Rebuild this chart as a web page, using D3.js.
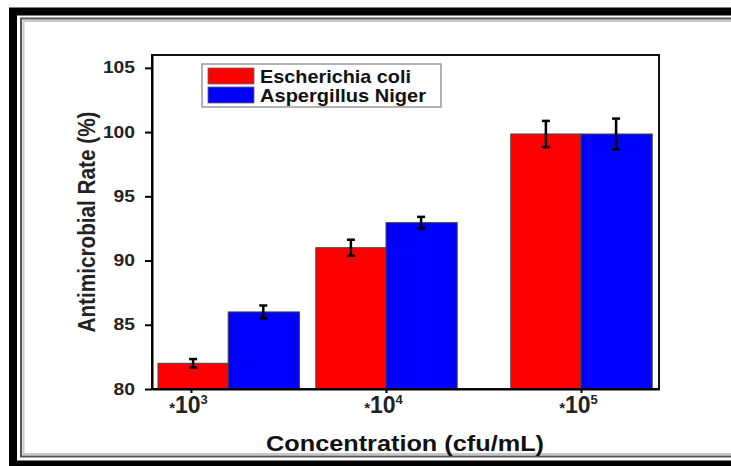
<!DOCTYPE html>
<html>
<head>
<meta charset="utf-8">
<script src="https://cdn.jsdelivr.net/npm/d3@7"></script>
<style>
  html, body { margin: 0; padding: 0; background: #fff; }
  svg { display: block; font-family: Arial, "Liberation Sans", sans-serif; }
</style>
</head>
<body>
<script>
// chart data
var categories = ["c3", "c4", "c5"];
var tickBase = "10";
var tickExponents = ["3", "4", "5"];
var seriesNames = ["Escherichia coli", "Aspergillus Niger"];
var seriesColors = ["#ff0000", "#0000ff"];
var ecoliValues = [82.0, 91.0, 99.85];
var ecoliErrors = [0.33, 0.62, 1.02];
var nigerValues = [86.0, 92.95, 99.85];
var nigerErrors = [0.5, 0.45, 1.2];
var yTicks = [80, 85, 90, 95, 100, 105];

var winWidth = 731, winHeight = 466;
var plot = {left: 152, right: 659, top: 55, bottom: 389};

var svg = d3.select("body").append("svg")
    .attr("width", winWidth)
    .attr("height", winHeight);

// stretch a text element to a wanted width
function stretch(sel, w) {
    sel.attr("textLength", w).attr("lengthAdjust", "spacingAndGlyphs");
}

// picture frame (double border with soft shadow)
svg.append("rect")
    .attr("x", 13).attr("y", 11.5)
    .attr("width", 760).attr("height", 453)
    .attr("fill", "none").attr("stroke", "#000").attr("stroke-width", 8);
svg.append("rect")
    .attr("x", 21).attr("y", 18.5)
    .attr("width", 760).attr("height", 438)
    .attr("fill", "none").attr("stroke", "#555").attr("stroke-width", 2);
svg.append("rect")
    .attr("x", 23.5).attr("y", 21)
    .attr("width", 760).attr("height", 433)
    .attr("fill", "none").attr("stroke", "#c8c8c8").attr("stroke-width", 2);

// scales
var x = d3.scalePoint()
    .domain(categories)
    .range([plot.left, plot.right])
    .padding(0.3)
    .align(1 / 3);
var y = d3.scaleLinear()
    .domain([80, 106])
    .range([plot.bottom, plot.top]);

var barW = x.step() * 0.36;
var gap = 6;
// keep a group inside the frame when its tick is too close to the edge
function groupCenter(c) {
    return Math.max(x(c), plot.left + gap + barW);
}

var rows = categories.map(function(c, i) {
    return {cat: c, vals: [
        {s: 0, v: ecoliValues[i], e: ecoliErrors[i]},
        {s: 1, v: nigerValues[i], e: nigerErrors[i]}
    ]};
});

var groups = svg.selectAll("g.grp")
    .data(rows)
    .enter().append("g")
    .attr("class", "grp");

groups.selectAll("rect")
    .data(function(d) { return d.vals.map(function(v) { v.cat = d.cat; return v; }); })
    .enter().append("rect")
    .attr("x", function(d) { return groupCenter(d.cat) - barW + d.s * barW; })
    .attr("y", function(d) { return y(d.v); })
    .attr("width", function(d) { return barW + d.s; })
    .attr("height", function(d) { return y(80) - y(d.v); })
    .attr("fill", function(d) { return seriesColors[d.s]; })
    .attr("stroke", "#444")
    .attr("stroke-width", 1);

// error bars
var errs = groups.selectAll("g.err")
    .data(function(d) { return d.vals; })
    .enter().append("g")
    .attr("class", "err")
    .attr("stroke", "#000")
    .attr("stroke-width", 2.5);
function errX(d) { return groupCenter(d.cat) - barW / 2 + d.s * barW; }
errs.append("line")
    .attr("x1", errX).attr("x2", errX)
    .attr("y1", function(d) { return y(d.v + d.e); })
    .attr("y2", function(d) { return y(d.v - d.e); });
errs.append("line")
    .attr("x1", function(d) { return errX(d) - 4; })
    .attr("x2", function(d) { return errX(d) + 4; })
    .attr("y1", function(d) { return y(d.v + d.e); })
    .attr("y2", function(d) { return y(d.v + d.e); });
errs.append("line")
    .attr("x1", function(d) { return errX(d) - 4; })
    .attr("x2", function(d) { return errX(d) + 4; })
    .attr("y1", function(d) { return y(d.v - d.e); })
    .attr("y2", function(d) { return y(d.v - d.e); });

// plot frame
svg.append("rect")
    .attr("x", plot.left).attr("y", plot.top)
    .attr("width", plot.right - plot.left)
    .attr("height", plot.bottom - plot.top)
    .attr("fill", "none").attr("stroke", "#111").attr("stroke-width", 2);

// y axis
var yAxis = svg.append("g")
    .attr("transform", "translate(" + plot.left + ",0)")
    .call(d3.axisLeft(y).tickValues(yTicks).tickSize(7).tickSizeOuter(0).tickPadding(10));
yAxis.select(".domain").attr("stroke-width", 2);
yAxis.selectAll(".tick line").attr("stroke-width", 2);
yAxis.selectAll(".tick text")
    .attr("font-size", 16).attr("font-weight", "bold").attr("fill", "#222")
    .attr("font-family", "Arial, 'Liberation Sans', sans-serif")
    .each(function(d) { stretch(d3.select(this), String(d).length * 10.7); });

// x axis
var xAxis = svg.append("g")
    .attr("transform", "translate(0," + plot.bottom + ")")
    .call(d3.axisBottom(x).tickSize(4).tickSizeOuter(0).tickFormat(""));
xAxis.select(".domain").attr("stroke-width", 2);
xAxis.selectAll(".tick line").attr("stroke-width", 2);
xAxis.selectAll(".tick text").remove();
xAxis.selectAll(".tick").each(function(d, i) {
    var t = d3.select(this).append("text")
        .attr("y", 24).attr("x", -3)
        .attr("text-anchor", "middle")
        .attr("fill", "#222")
        .attr("font-family", "Arial, 'Liberation Sans', sans-serif")
        .attr("font-weight", "bold");
    t.append("tspan").attr("font-size", 15).attr("dy", 0).text("*");
    t.append("tspan").attr("font-size", 23).text(tickBase);
    t.append("tspan").attr("font-size", 13).attr("dy", -9).text(tickExponents[i]);
});

// axis titles
svg.append("text")
    .attr("transform", "translate(95," + ((plot.top + 389) / 2) + ") rotate(-90)")
    .attr("text-anchor", "middle")
    .attr("font-size", 23.5).attr("font-weight", "bold").attr("fill", "#222")
    .text("Antimicrobial Rate (%)")
    .call(stretch, 221);
svg.append("text")
    .attr("x", 405).attr("y", 450.5)
    .attr("text-anchor", "middle")
    .attr("font-size", 22).attr("font-weight", "bold").attr("fill", "#111")
    .text("Concentration (cfu/mL)")
    .call(stretch, 278);

// legend
var legend = svg.append("g").attr("transform", "translate(202,64)");
legend.append("rect")
    .attr("width", 239).attr("height", 43)
    .attr("fill", "#fff").attr("stroke", "#999").attr("stroke-width", 1.5);
var legendWidths = [151, 166];
var items = legend.selectAll("g.item")
    .data(seriesNames)
    .enter().append("g")
    .attr("class", "item")
    .attr("transform", function(d, i) { return "translate(6," + (4 + i * 19) + ")"; });
items.append("rect")
    .attr("width", 46).attr("height", 16)
    .attr("fill", function(d, i) { return seriesColors[i]; })
    .attr("stroke", "#666").attr("stroke-width", 0.8);
items.append("text")
    .attr("x", 52).attr("y", 14.5)
    .attr("font-size", 19).attr("font-weight", "bold").attr("fill", "#111")
    .text(function(d) { return d; })
    .each(function(d, i) { stretch(d3.select(this), legendWidths[i]); });
</script>
</body>
</html>
